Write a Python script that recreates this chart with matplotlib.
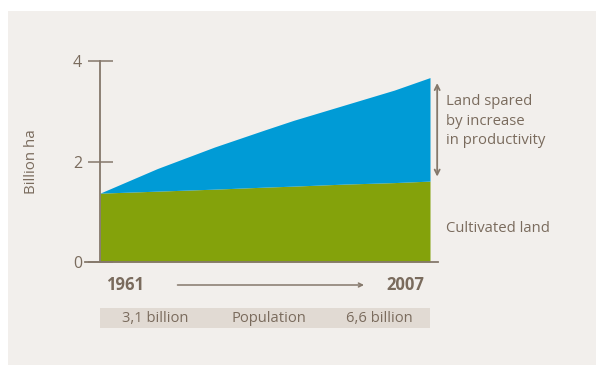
import numpy as np
import matplotlib.pyplot as plt
from matplotlib.patches import Rectangle
from matplotlib.transforms import blended_transform_factory

plt.rcParams['font.family'] = ['Open Sans', 'DejaVu Sans']

# data (billion ha)
years = [1961, 1969, 1977, 1984, 1988, 1995, 2002, 2007]
cultivated = [1.37, 1.41, 1.45, 1.49, 1.51, 1.55, 1.58, 1.61]
total_needed = [1.37, 1.86, 2.29, 2.63, 2.82, 3.12, 3.42, 3.67]
yticks = [0, 2, 4]
pop_labels = ['3,1 billion', 'Population', '6,6 billion']

# colours
BG = '#f2efec'
BAND = '#e1dad3'
BLUE = '#009bd6'
GREEN = '#84a20b'
AXC = '#85786b'
TXT = '#7a6b5d'

W, H = 596, 365
fig = plt.figure(figsize=(W / 100, H / 100), dpi=100, facecolor='white')
fig.patches.append(Rectangle((8 / W, 0), 1, 1 - 11 / H, transform=fig.transFigure,
                             facecolor=BG, edgecolor='none', zorder=-10))

# axes box: x 100..430 px, y 61..262 px (from top)
ax = fig.add_axes([100 / W, (H - 262) / H, 330 / W, 201 / H])
ax.set_facecolor('none')
ax.set_xlim(1961, 2007)
ax.set_ylim(0, 4)

ax.fill_between(years, 0, cultivated, color=GREEN, lw=0)
ax.fill_between(years, cultivated, total_needed, color=BLUE, lw=0)

for s in ['top', 'right', 'bottom']:
    ax.spines[s].set_visible(False)
ax.spines['left'].set_color(AXC)
ax.spines['left'].set_linewidth(1.3)
ax.set_xticks([])
ax.set_yticks(yticks)
ax.tick_params(axis='y', direction='inout', length=18, width=1.1, color=AXC,
               labelcolor=TXT, labelsize=11.5, pad=4)
# bottom baseline, a bit wider than the plot
ax.plot([1958.9, 2008.1], [0, 0], color=AXC, lw=1.3, clip_on=False, zorder=5)

ax.set_ylabel('Billion ha', color=TXT, fontsize=10.8, labelpad=24)

# double arrow + labels at the right
ax.annotate('', xy=(2008.0, 3.56), xytext=(2008.0, 1.70),
            arrowprops=dict(arrowstyle='<->', color=AXC, lw=1.3,
                            mutation_scale=9, shrinkA=0, shrinkB=0),
            annotation_clip=False)
ax.text(2009.3, 2.80, 'Land spared\nby increase\nin productivity', color=TXT,
        fontsize=10.7, va='center', ha='left', linespacing=1.42)
ax.text(2009.3, 0.67, 'Cultivated land', color=TXT, fontsize=10.7,
        va='center', ha='left')

# time arrow under the axis
tr = blended_transform_factory(ax.transData, fig.transFigure)
y_years = 1 - 285 / H
ax.text(1961.8, y_years, '1961', transform=tr, color=TXT, fontsize=12,
        fontweight='bold', va='center', ha='left')
ax.text(2006.2, y_years, '2007', transform=tr, color=TXT, fontsize=12,
        fontweight='bold', va='center', ha='right')
ax.annotate('', xy=(1997.8, y_years), xytext=(1971.8, y_years), xycoords=tr,
            textcoords=tr,
            arrowprops=dict(arrowstyle='->', color=AXC, lw=1.1,
                            mutation_scale=7, shrinkA=0, shrinkB=0),
            annotation_clip=False)

# population band
band_y0 = 1 - 328 / H
band_h = 20 / H
ax.add_patch(Rectangle((1961, band_y0), 46, band_h, transform=tr,
                       facecolor=BAND, edgecolor='none', clip_on=False))
pop_x = [1968.7, 1984.5, 1999.9]
for xp, lab in zip(pop_x, pop_labels):
    ax.text(xp, band_y0 + band_h / 2, lab, transform=tr, color=TXT,
            fontsize=10.6, va='center', ha='center')

fig.savefig('out.png', dpi=100, facecolor=fig.get_facecolor())
